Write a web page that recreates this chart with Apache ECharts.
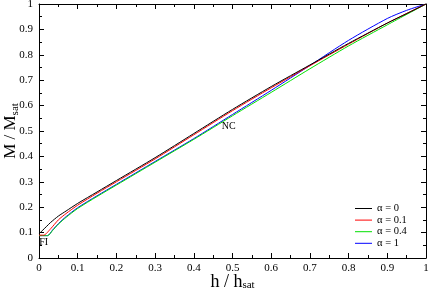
<!DOCTYPE html>
<html lang="en">
<head>
    <meta charset="UTF-8">
    <title>M / Msat vs h / hsat</title>
    <script src="https://cdn.jsdelivr.net/npm/echarts@6/dist/echarts.min.js"></script>
    <style>
        html, body { margin: 0; padding: 0; background: #fff; }
        #chart { width: 429px; height: 291px; }
    </style>
</head>
<body>
<div id="chart"></div>
<script>
  // values
  var H0 = [0, 0.01, 0.02, 0.03, 0.05, 0.07, 0.1, 0.15, 0.2, 0.3, 0.4, 0.5, 0.6, 0.7, 0.8, 0.9, 0.95, 1];
  var M0 = [0.095, 0.11, 0.125, 0.14, 0.165, 0.185, 0.215, 0.26, 0.305, 0.395, 0.49, 0.585, 0.675, 0.76, 0.845, 0.925, 0.962, 1];

  var H01 = [0, 0.012, 0.03, 0.05, 0.07, 0.1, 0.15, 0.2, 0.3, 0.4, 0.5, 0.6, 0.7, 0.8, 0.9, 1];
  var M01 = [0.09, 0.09, 0.115, 0.15, 0.175, 0.208, 0.255, 0.3, 0.39, 0.485, 0.58, 0.67, 0.757, 0.842, 0.925, 1];

  var H04 = [0, 0.022, 0.035, 0.05, 0.07, 0.1, 0.15, 0.2, 0.3, 0.4, 0.5, 0.6, 0.7, 0.8, 0.9, 1];
  var M04 = [0.088, 0.088, 0.108, 0.133, 0.16, 0.195, 0.242, 0.287, 0.377, 0.467, 0.56, 0.652, 0.745, 0.835, 0.918, 1];

  var H1 = [0, 0.022, 0.035, 0.05, 0.07, 0.1, 0.15, 0.2, 0.3, 0.4, 0.5, 0.6, 0.7, 0.8, 0.9, 0.95, 1];
  var M1 = [0.088, 0.088, 0.11, 0.135, 0.163, 0.198, 0.245, 0.29, 0.38, 0.47, 0.565, 0.66, 0.758, 0.857, 0.943, 0.975, 1];

  var NAMES = ['α = 0', 'α = 0.1', 'α = 0.4', 'α = 1'];
  var COLORS = ['#000000', '#ff0000', '#00e000', '#0000ff'];

  var FONT = '"Liberation Serif", "DejaVu Serif", serif';

  function pairs(xs, ys) {
    return xs.map(function (x, i) { return [x, ys[i]]; });
  }

  var myChart = echarts.init(document.getElementById('chart'), null, { renderer: 'canvas' });

  var tickStyle = {
    axisLine: { show: true, onZero: false, lineStyle: { color: '#000', width: 1 } },
    axisTick: { show: true, inside: true, length: 5, lineStyle: { color: '#000' } },
    minorTick: { show: true, splitNumber: 2, length: 3, lineStyle: { color: '#000' } },
    splitLine: { show: false }
  };

  function axis(extra) {
    var a = Object.assign({ type: 'value', min: 0, max: 1, interval: 0.1 }, tickStyle);
    return Object.assign(a, extra);
  }

  // titles with subscript: main text + lowered small "sat"
  var xRich = {
    a: { fontFamily: FONT, fontSize: 18, color: '#000', lineHeight: 18 },
    s: { fontFamily: FONT, fontSize: 11, color: '#000', lineHeight: 2, verticalAlign: 'bottom' }
  };
  var yRich = {
    a: { fontFamily: FONT, fontSize: 17, color: '#000', lineHeight: 20 },
    s: { fontFamily: FONT, fontSize: 11, color: '#000', lineHeight: 2, verticalAlign: 'bottom' }
  };

  var series = [[H0, M0], [H01, M01], [H04, M04], [H1, M1]].map(function (d, i) {
    return {
      name  : NAMES[i],
      type  : 'line',
      symbol: 'none',
      smooth: 0.25,
      color : COLORS[i],
      lineStyle: { width: 1, color: COLORS[i] },
      data  : pairs(d[0], d[1]),
      z     : 10 - i
    };
  });

  series[0].markPoint = {
    symbol: 'circle',
    symbolSize: 0,
    silent: true,
    itemStyle: { color: 'rgba(0,0,0,0)' },
    label : { show: true, position: 'inside', color: '#000', fontFamily: FONT, fontSize: 10 },
    data  : [
      { coord: [0.012, 0.062], value: 'FI', label: { formatter: 'FI' } },
      { coord: [0.49, 0.52], value: 'NC', label: { formatter: 'NC' } }
    ]
  };

  myChart.setOption({
    animation: false,
    grid: { left: 39, right: 3, top: 4, bottom: 33, containLabel: false, outerBoundsMode: 'none' },
    legend: {
      orient: 'vertical',
      left: 350,
      top: 198,
      itemWidth: 17,
      itemHeight: 1,
      itemGap: 0.6,
      icon: 'rect',
      data: NAMES,
      textStyle: { fontFamily: FONT, fontSize: 10.5, color: '#000', lineHeight: 10 }
    },
    xAxis: [
      axis({
        position: 'bottom',
        axisLabel: {
          color: '#000', fontFamily: FONT, fontSize: 11, margin: 5,
          formatter: function (v) { return String(Math.round(v * 10) / 10); }
        },
        name: '{a|h / h}{s|sat}',
        nameLocation: 'middle',
        nameGap: 15,
        nameMoveOverlap: false,
        nameTextStyle: { rich: xRich }
      }),
      axis({ position: 'top', axisLabel: { show: false } })
    ],
    yAxis: [
      axis({
        position: 'left',
        axisLabel: {
          color: '#000', fontFamily: FONT, fontSize: 11, margin: 6,
          formatter: function (v) { return String(Math.round(v * 10) / 10); }
        },
        name: '{a|M / M}{s|sat}',
        nameLocation: 'middle',
        nameGap: 18,
        nameMoveOverlap: false,
        nameTextStyle: { rich: yRich }
      }),
      axis({ position: 'right', axisLabel: { show: false } })
    ],
    series: series
  });
</script>
</body>
</html>
